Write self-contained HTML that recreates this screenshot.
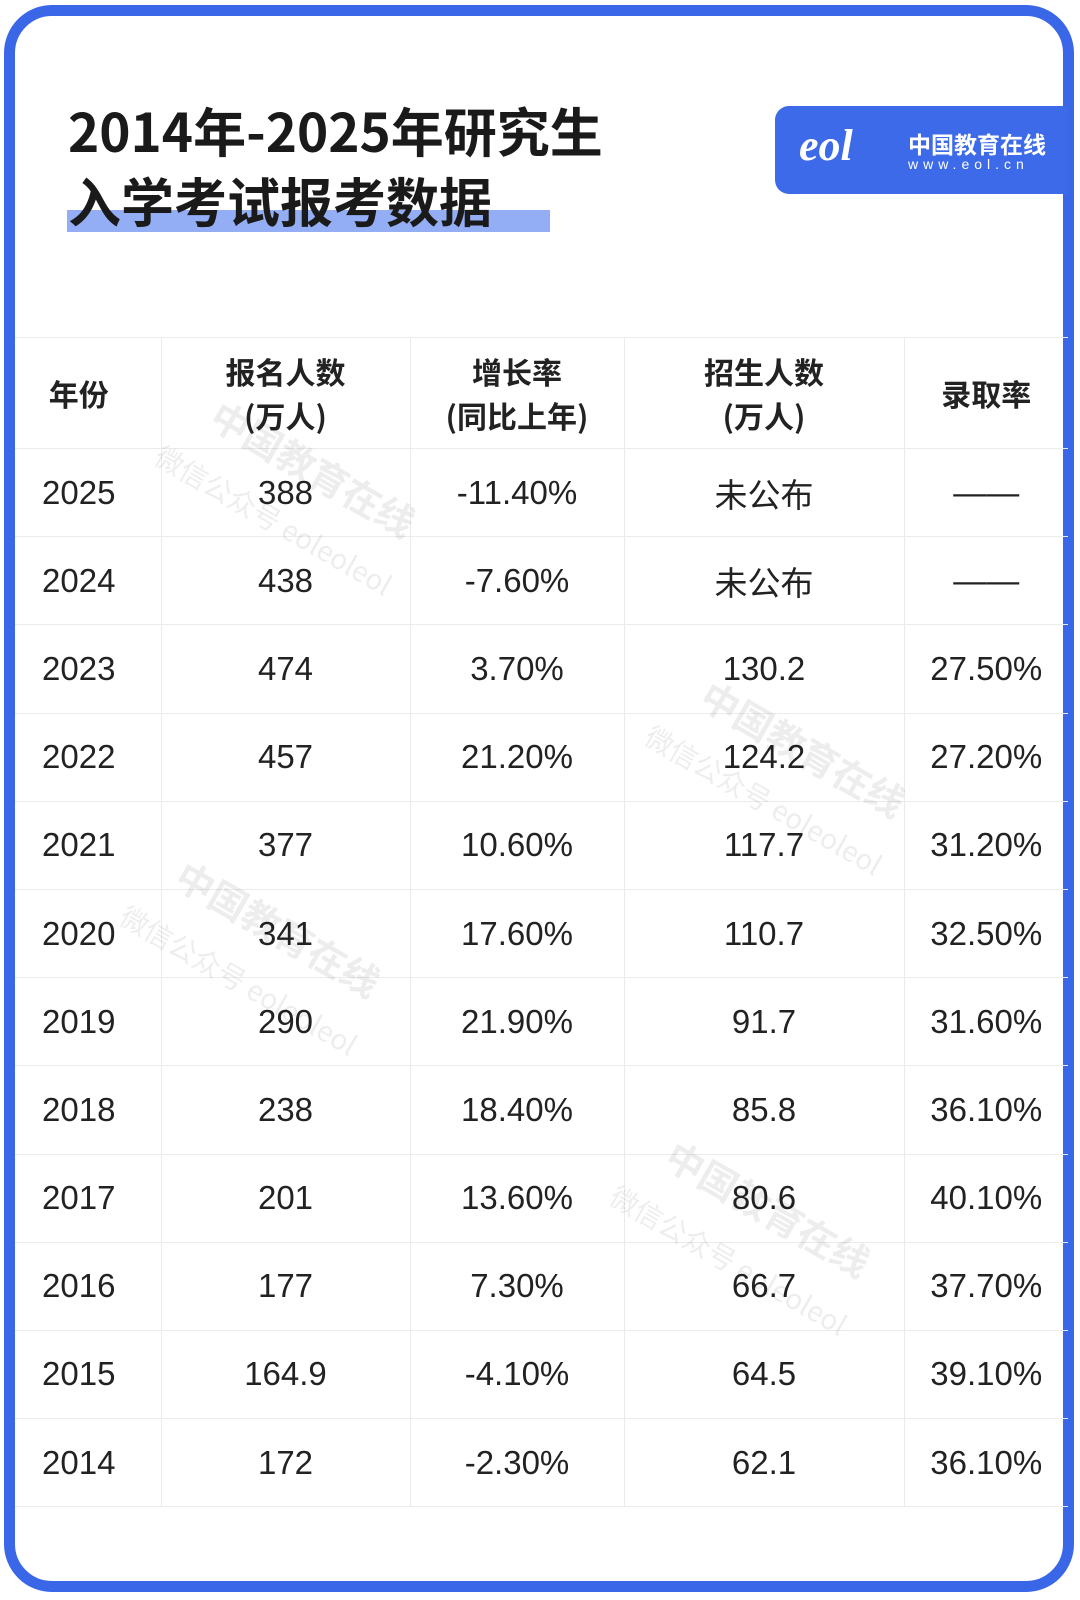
<!DOCTYPE html>
<html><head><meta charset="utf-8"><style>
*{margin:0;padding:0;box-sizing:border-box}
body{width:1080px;height:1600px;background:#fff;position:relative;overflow:hidden;font-family:"Liberation Sans","Noto Sans CJK SC",sans-serif}
.frame{position:absolute;left:4px;top:5px;width:1070px;height:1587px;border:11px solid #3a66e8;border-radius:48px;background:#fff}
.hl{position:absolute;left:67px;top:210px;width:483px;height:22px;background:#94aef5}
.t{position:absolute;left:68px;font-weight:bold;font-size:53px;color:#1a1a1a;line-height:60px;font-family:"Noto Sans CJK SC",sans-serif}
.logo{position:absolute;left:775px;top:106px;width:293px;height:88px;background:#3d6ae8;border-radius:14px 0 0 14px;color:#fff}
table{position:absolute;left:15px;top:337px;width:1053px;border-collapse:collapse;table-layout:fixed}
td,th{border:1px solid #e8ecef;text-align:center;color:#222;height:88.2px;font-size:33px;font-weight:normal}
th{height:111px;font-weight:bold;font-size:30px;line-height:44px;font-family:"Noto Sans CJK SC",sans-serif}
tr>*:first-child{border-left:none;padding-right:18px}tr>*:last-child{border-right:none}
.wm{position:absolute;color:rgba(0,0,0,0.07);font-size:38px;font-weight:bold;transform:rotate(30deg);font-family:"Noto Sans CJK SC",sans-serif;white-space:nowrap}
.wm2{position:absolute;color:rgba(0,0,0,0.07);font-size:28px;transform:rotate(30deg);font-family:"Noto Sans CJK SC",sans-serif;white-space:nowrap}
</style></head><body>
<div class="frame"></div>
<div class="hl"></div>
<div class="t" style="top:100px">2014年-2025年研究生</div>
<div class="t" style="top:170px">入学考试报考数据</div>
<div class="logo">
<div style="position:absolute;left:24px;top:14px;font-size:44px;font-weight:bold;font-style:italic;font-family:'Liberation Serif',serif">eol</div>
<div style="position:absolute;left:133px;top:20px;font-size:23px;font-weight:bold;font-family:'Noto Sans CJK SC',sans-serif">中国教育在线</div>
<div style="position:absolute;left:133px;top:50px;font-size:14px;letter-spacing:5px">www.eol.cn</div>
</div>
<table>
<colgroup><col style="width:146px"><col style="width:249px"><col style="width:214px"><col style="width:280px"><col></colgroup>
<tr><th>年份</th><th>报名人数<br>(万人)</th><th>增长率<br>(同比上年)</th><th>招生人数<br>(万人)</th><th>录取率</th></tr>
<tr><td>2025</td><td>388</td><td>-11.40%</td><td>未公布</td><td>——</td></tr>
<tr><td>2024</td><td>438</td><td>-7.60%</td><td>未公布</td><td>——</td></tr>
<tr><td>2023</td><td>474</td><td>3.70%</td><td>130.2</td><td>27.50%</td></tr>
<tr><td>2022</td><td>457</td><td>21.20%</td><td>124.2</td><td>27.20%</td></tr>
<tr><td>2021</td><td>377</td><td>10.60%</td><td>117.7</td><td>31.20%</td></tr>
<tr><td>2020</td><td>341</td><td>17.60%</td><td>110.7</td><td>32.50%</td></tr>
<tr><td>2019</td><td>290</td><td>21.90%</td><td>91.7</td><td>31.60%</td></tr>
<tr><td>2018</td><td>238</td><td>18.40%</td><td>85.8</td><td>36.10%</td></tr>
<tr><td>2017</td><td>201</td><td>13.60%</td><td>80.6</td><td>40.10%</td></tr>
<tr><td>2016</td><td>177</td><td>7.30%</td><td>66.7</td><td>37.70%</td></tr>
<tr><td>2015</td><td>164.9</td><td>-4.10%</td><td>64.5</td><td>39.10%</td></tr>
<tr><td>2014</td><td>172</td><td>-2.30%</td><td>62.1</td><td>36.10%</td></tr>
</table>
<div class="wm" style="left:200px;top:440px">中国教育在线</div>
<div class="wm2" style="left:140px;top:500px">微信公众号 eoleoleol</div>
<div class="wm" style="left:690px;top:720px">中国教育在线</div>
<div class="wm2" style="left:630px;top:780px">微信公众号 eoleoleol</div>
<div class="wm" style="left:165px;top:900px">中国教育在线</div>
<div class="wm2" style="left:105px;top:960px">微信公众号 eoleoleol</div>
<div class="wm" style="left:655px;top:1180px">中国教育在线</div>
<div class="wm2" style="left:595px;top:1240px">微信公众号 eoleoleol</div>
</body></html>
